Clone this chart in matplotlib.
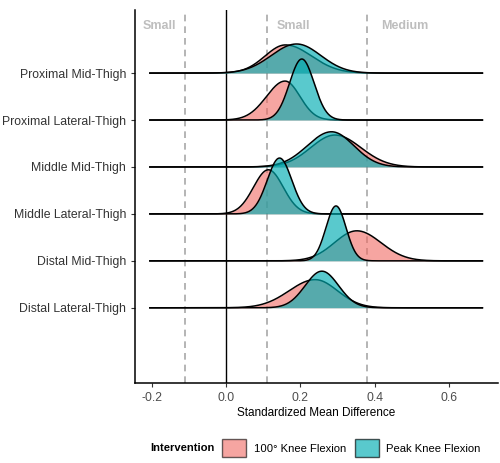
import numpy as np
import matplotlib.pyplot as plt
from matplotlib.patches import Patch

plt.rcParams['font.family'] = ['Liberation Sans', 'DejaVu Sans']

# rows, bottom to top
sites = ["Distal Lateral-Thigh", "Distal Mid-Thigh", "Middle Lateral-Thigh",
         "Middle Mid-Thigh", "Proximal Lateral-Thigh", "Proximal Mid-Thigh"]

# 100° knee flexion density: peak location, left spread, right spread, peak height
flex100_peak = [0.240, 0.352, 0.114, 0.293, 0.159, 0.160]
flex100_left = [0.070, 0.060, 0.040, 0.065, 0.050, 0.055]
flex100_right = [0.060, 0.065, 0.040, 0.070, 0.040, 0.070]
flex100_height = [0.60, 0.64, 0.94, 0.68, 0.83, 0.60]

# peak knee flexion density
peak_peak = [0.258, 0.296, 0.144, 0.284, 0.204, 0.190]
peak_left = [0.045, 0.027, 0.033, 0.065, 0.033, 0.068]
peak_right = [0.045, 0.027, 0.033, 0.060, 0.033, 0.065]
peak_height = [0.78, 1.17, 1.19, 0.75, 1.30, 0.62]

thresholds = [-0.11, 0.11, 0.38]
zone_labels = ["Small", "Small", "Medium"]
zone_x = [-0.178, 0.182, 0.48]

pink = "#F06A62"
teal = "#00ADB2"

fig = plt.figure(figsize=(5, 4.63), dpi=100)
ax = fig.add_axes([0.27, 0.173, 0.726, 0.805])

xs = np.linspace(-0.205, 0.69, 800)


def curve(p, l, r, h):
    sd = np.where(xs < p, l, r)
    return h * np.exp(-0.5 * ((xs - p) / sd) ** 2)


for t in thresholds:
    ax.axvline(t, color="#A8A8A8", lw=1.2, ls=(0, (4, 3)), zorder=0)
ax.axvline(0, color="black", lw=1.0, zorder=0.5)

# top row first so lower rows sit on top
for i in range(len(sites) - 1, -1, -1):
    base = i + 1
    z = 10 + (len(sites) - i) * 3
    y1 = curve(flex100_peak[i], flex100_left[i], flex100_right[i], flex100_height[i])
    y2 = curve(peak_peak[i], peak_left[i], peak_right[i], peak_height[i])
    ax.fill_between(xs, base, base + y1, color=pink, alpha=0.6, lw=0, zorder=z)
    ax.plot(xs, base + y1, color="black", lw=1.1, zorder=z + 0.5)
    ax.fill_between(xs, base, base + y2, color=teal, alpha=0.65, lw=0, zorder=z + 1)
    ax.plot(xs, base + y2, color="black", lw=1.1, zorder=z + 1.5)

for lab, xp in zip(zone_labels, zone_x):
    ax.text(xp, 7.0, lab, color="#BEBEBE", fontsize=9, fontweight="bold",
            ha="center", va="center")

ax.set_xlim(-0.245, 0.732)
ax.set_ylim(-0.6, 7.34)
ax.set_yticks(range(1, len(sites) + 1))
ax.set_yticklabels(sites)
ax.set_xticks([-0.2, 0.0, 0.2, 0.4, 0.6])
ax.set_xticklabels(["-0.2", "0.0", "0.2", "0.4", "0.6"])
ax.tick_params(labelsize=8.8, colors="#4D4D4D", length=3)
ax.tick_params(axis="y", labelcolor="#333333")
ax.tick_params(color="#333333")
for s in ["top", "right"]:
    ax.spines[s].set_visible(False)
for s in ["left", "bottom"]:
    ax.spines[s].set_linewidth(1.1)
ax.set_xlabel("Standardized Mean Difference", fontsize=8.5, labelpad=2)

# legend: bold title on the left, then the two boxes
fig.text(150 / 500, 1 - 448 / 463, "Intervention", fontsize=8.1, fontweight="bold",
         ha="left", va="center")
handles = [Patch(facecolor=pink, alpha=0.6, edgecolor="black", lw=1.0),
           Patch(facecolor=teal, alpha=0.65, edgecolor="black", lw=1.0)]
leg = fig.legend(handles, ["100° Knee Flexion", "Peak Knee Flexion"],
                 loc="center left", bbox_to_anchor=(221 / 500, 1 - 448 / 463), ncol=2,
                 frameon=False, fontsize=8.1, handlelength=2.1, handleheight=2.1,
                 columnspacing=0.8, handletextpad=0.7, borderaxespad=0, borderpad=0.1)
for p in leg.get_patches():
    p.set_edgecolor("black")

fig.savefig("out.png", dpi=100)
